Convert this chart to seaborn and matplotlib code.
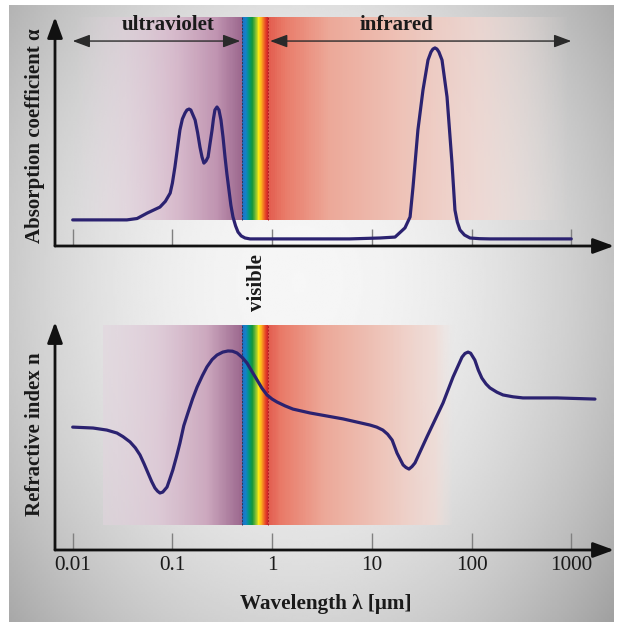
import numpy as np
import pandas as pd
import matplotlib
matplotlib.use("Agg")
import matplotlib.pyplot as plt
import seaborn as sns
from matplotlib.colors import LinearSegmentedColormap

# ---------------- data ----------------
top_wavelength = [0.01, 0.019, 0.035, 0.0442, 0.056, 0.075, 0.085, 0.095, 0.100, 0.106,
                  0.119, 0.126, 0.134, 0.140, 0.147, 0.153, 0.169, 0.179, 0.189, 0.198,
                  0.207, 0.217, 0.228, 0.238, 0.25, 0.258, 0.267, 0.28, 0.293, 0.307,
                  0.322, 0.337, 0.352, 0.369, 0.386, 0.405, 0.43, 0.455, 0.49, 0.535,
                  0.6, 0.756, 1.9, 6.0, 12.1, 17.1, 21.5, 24.2, 25.9, 29.0,
                  32.6, 36.6, 39.2, 41.0, 43.0, 45.0, 47.1, 50.6, 56.8, 63.7,
                  68.2, 72.0, 76.6, 85.0, 96.6, 120, 153, 385, 1000]
top_absorption = [11.4, 11.4, 11.4, 12.0, 14.4, 17.0, 19.5, 23.1, 27.5, 34.5,
                  50.7, 55.5, 58.1, 59.4, 59.8, 59.4, 55.0, 49.5, 43.2, 38.9,
                  36.2, 37.1, 38.9, 44.5, 50.7, 55.5, 59.4, 60.7, 59.4, 55.0,
                  47.5, 38.9, 31.5, 24.5, 17.8, 12.7, 8.8, 6.1, 4.4, 3.5,
                  3.1, 3.1, 3.1, 3.1, 3.5, 3.9, 7.9, 12.7, 25.8, 50.7,
                  68.1, 81.2, 84.7, 86.0, 86.5, 86.0, 84.7, 81.2, 65.1, 36.2,
                  15.7, 10.5, 7.0, 4.8, 3.5, 3.2, 3.1, 3.1, 3.1]

bottom_wavelength = [0.01, 0.016, 0.022, 0.0278, 0.032, 0.0376, 0.0425, 0.0473, 0.052, 0.0569,
                     0.062, 0.0668, 0.071, 0.075, 0.080, 0.0883, 0.094, 0.101, 0.11, 0.119,
                     0.13, 0.143, 0.16, 0.177, 0.2, 0.222, 0.25, 0.28, 0.32, 0.361,
                     0.40, 0.445, 0.5, 0.56, 0.63, 0.706, 0.79, 0.889, 1.0, 1.12,
                     1.35, 1.62, 2.4, 5.14, 9.6, 11.2, 12.9, 14.4, 16.0, 17.9,
                     20.6, 22.0, 23.6, 25.3, 27.1, 35.7, 51.8, 65.3, 80.3, 86.0,
                     92.3, 98.0, 108, 117, 127, 140, 153, 180, 207, 260,
                     328, 719, 1730]
bottom_index = [53.9, 53.5, 52.6, 51.3, 49.7, 47.4, 44.8, 41.7, 37.8, 33.8,
                30.0, 27.2, 25.8, 25.0, 25.4, 27.6, 31.0, 35.1, 41.0, 46.9,
                54.5, 60.1, 66.5, 71.5, 76.5, 80.3, 83.5, 85.5, 86.8, 87.3,
                87.2, 86.4, 84.5, 82.0, 78.2, 74.6, 71.0, 68.0, 66.2, 64.9,
                63.2, 61.8, 60.1, 57.5, 54.8, 53.9, 52.6, 50.8, 48.2, 42.5,
                37.3, 36.2, 35.5, 36.6, 38.2, 49.6, 64.5, 75.9, 84.6, 86.2,
                86.8, 86.3, 83.3, 78.9, 75.4, 72.8, 71.1, 69.2, 68.0, 67.2,
                66.7, 66.7, 66.2]

tick_values = [0.01, 0.1, 1, 10, 100, 1000]
tick_labels = ["0.01", "0.1", "1", "10", "100", "1000"]

uv_range_top = [0.01, 0.5]
uv_range_bottom = [0.02, 0.5]
visible_range = [0.5, 0.9]
ir_range_top = [0.9, 1000]
ir_range_bottom = [0.9, 68]
uv_arrow = [0.01, 0.479]
ir_arrow = [0.955, 1000]

# ---------------- style ----------------
sns.set_theme(style="white")
plt.rcParams['font.family'] = ['Liberation Serif', 'DejaVu Serif']

W, H = 620, 622
fig = plt.figure(figsize=(6.2, 6.22), dpi=100, facecolor='white')

def fx(px):
    return px / W

def fy(py):
    return 1 - py / H

# background panel with soft gray gradient
bg = fig.add_axes([fx(9), 0, fx(614) - fx(9), fy(5)])
bg.axis('off')
yy, xx = np.mgrid[0:1:300j, 0:1:300j]
r = np.sqrt(((xx - 0.48) / 0.6) ** 2 + ((yy - 0.45) / 0.78) ** 2)
val = 0.965 - 0.27 * np.clip(r, 0, 1.3) ** 2
bg.imshow(val, cmap='gray', vmin=0, vmax=1, extent=[0, 1, 0, 1], aspect='auto',
          origin='upper', interpolation='bilinear')
bg.set_xlim(0, 1)
bg.set_ylim(0, 1)

XMIN, XMAX = 10 ** -2.1775, 10 ** 3.429
ax1 = fig.add_axes([fx(55), fy(246), fx(614) - fx(55), fy(17) - fy(246)])
ax2 = fig.add_axes([fx(55), fy(550), fx(614) - fx(55), fy(322) - fy(550)])

def rgba(r, g, b, a=1.0):
    return (r / 255, g / 255, b / 255, a)

uv_cmap_top = LinearSegmentedColormap.from_list("uvt", [
    (0.0, rgba(226, 212, 222, 0.0)), (0.3, rgba(224, 204, 217, 0.55)),
    (0.6, rgba(214, 183, 202, 0.9)), (0.85, rgba(192, 148, 177, 1)),
    (1.0, rgba(156, 104, 142, 1))])
uv_cmap_bot = LinearSegmentedColormap.from_list("uvb", [
    (0.0, rgba(226, 212, 222, 0.55)), (0.4, rgba(220, 198, 212, 0.85)),
    (0.75, rgba(204, 168, 190, 1)), (1.0, rgba(156, 104, 142, 1))])
vis_cmap = LinearSegmentedColormap.from_list("vis", [
    (0.0, rgba(30, 110, 195)), (0.14, rgba(20, 130, 200)), (0.28, rgba(0, 150, 120)),
    (0.4, rgba(20, 150, 60)), (0.55, rgba(140, 195, 50)), (0.65, rgba(250, 235, 20)),
    (0.78, rgba(250, 165, 30)), (0.9, rgba(235, 80, 40)), (1.0, rgba(210, 40, 40))])
ir_cmap_top = LinearSegmentedColormap.from_list("irt", [
    (0.0, rgba(226, 92, 78)), (0.05, rgba(233, 122, 104)), (0.2, rgba(236, 168, 152)),
    (0.45, rgba(238, 195, 184)), (0.7, rgba(240, 214, 208, 0.8)),
    (1.0, rgba(240, 226, 222, 0.0))])
ir_cmap_bot = LinearSegmentedColormap.from_list("irb", [
    (0.0, rgba(226, 92, 78)), (0.07, rgba(233, 122, 104)), (0.3, rgba(236, 168, 152)),
    (0.65, rgba(238, 200, 190)), (0.9, rgba(240, 218, 212, 0.8)),
    (1.0, rgba(240, 226, 222, 0.0))])

def band(ax, xr, yr, cmap, n=160):
    edges = np.logspace(np.log10(xr[0]), np.log10(xr[1]), n + 1)
    c = np.linspace(0, 1, n)[None, :]
    ax.pcolormesh(edges, yr, c, cmap=cmap, vmin=0, vmax=1, shading='flat',
                  edgecolors='none', linewidth=0, antialiased=False, zorder=1)

band(ax1, uv_range_top, [11.35, 100], uv_cmap_top)
band(ax1, visible_range, [11.35, 100], vis_cmap)
band(ax1, ir_range_top, [11.35, 100], ir_cmap_top)
band(ax2, uv_range_bottom, [11.0, 98.7], uv_cmap_bot)
band(ax2, visible_range, [11.0, 98.7], vis_cmap)
band(ax2, ir_range_bottom, [11.0, 98.7], ir_cmap_bot)

for ax, ylo, yhi in [(ax1, 11.35, 100), (ax2, 11.0, 98.7)]:
    ax.plot([visible_range[0]] * 2, [ylo, yhi], ls=(0, (2, 1.5)), lw=0.7,
            color='#333355', zorder=2)
    ax.plot([visible_range[1]] * 2, [ylo, yhi], ls=(0, (2, 1.5)), lw=0.7,
            color='#b02020', zorder=2)

curve_color = '#2b2270'
sns.lineplot(data=pd.DataFrame({"wl": top_wavelength, "a": top_absorption}),
             x="wl", y="a", ax=ax1, color=curve_color, lw=2.3, estimator=None,
             sort=False, zorder=5, solid_joinstyle='round', solid_capstyle='round')
sns.lineplot(data=pd.DataFrame({"wl": bottom_wavelength, "n": bottom_index}),
             x="wl", y="n", ax=ax2, color=curve_color, lw=2.3, estimator=None,
             sort=False, zorder=5, solid_joinstyle='round', solid_capstyle='round')

for ax in (ax1, ax2):
    ax.set_xscale('log')
    ax.set_xlim(XMIN, XMAX)
    ax.set_ylim(0, 100)
    ax.patch.set_alpha(0)
    for s in ax.spines.values():
        s.set_visible(False)
    ax.set_xlabel("")
    ax.set_ylabel("")
    ax.set_yticks([])
    ax.set_xticks(tick_values)
    ax.minorticks_off()
    ax.tick_params(axis='x', which='major', direction='in', length=12, width=1,
                   color='#808080', bottom=True, pad=4, labelsize=15.3,
                   labelcolor='#1a1a1a')
    ax.annotate('', xy=(1, 0), xytext=(0, 0), xycoords='axes fraction',
                textcoords='axes fraction', annotation_clip=False,
                arrowprops=dict(arrowstyle='-|>,head_length=0.9,head_width=0.33',
                                lw=2, color='#111111', mutation_scale=14,
                                shrinkA=0, shrinkB=0), zorder=6)
    ax.annotate('', xy=(0, 1), xytext=(0, 0), xycoords='axes fraction',
                textcoords='axes fraction', annotation_clip=False,
                arrowprops=dict(arrowstyle='-|>,head_length=0.9,head_width=0.33',
                                lw=2, color='#111111', mutation_scale=14,
                                shrinkA=0, shrinkB=0), zorder=6)

ax1.set_xticklabels([])
ax2.set_xticklabels(tick_labels)

# range arrows
arrow_y = 89.5
for rng in (uv_arrow, ir_arrow):
    ax1.annotate('', xy=(rng[1], arrow_y), xytext=(rng[0], arrow_y),
                 arrowprops=dict(arrowstyle='<|-|>,head_length=0.75,head_width=0.28',
                                 lw=1, color='#2a2a2a', mutation_scale=14,
                                 shrinkA=0, shrinkB=0), zorder=6)

# texts
fig.text(fx(168), fy(25), "ultraviolet", ha='center', va='center',
         fontsize=15, fontweight='bold', color='#1a1a1a')
fig.text(fx(396), fy(25), "infrared", ha='center', va='center',
         fontsize=15, fontweight='bold', color='#1a1a1a')
fig.text(fx(257), fy(283), "visible", ha='center', va='center', rotation=90,
         fontsize=15, fontweight='bold', color='#1a1a1a')
fig.text(fx(35), fy(136), "Absorption coefficient α", ha='center', va='center',
         rotation=90, fontsize=15, fontweight='bold', color='#1a1a1a')
fig.text(fx(35), fy(434), "Refractive index n", ha='center', va='center',
         rotation=90, fontsize=15, fontweight='bold', color='#1a1a1a')
fig.text(fx(326), fy(604), "Wavelength λ [μm]", ha='center', va='center',
         fontsize=15.2, fontweight='bold', color='#1a1a1a')

fig.savefig("out.png", dpi=100, facecolor='white')
